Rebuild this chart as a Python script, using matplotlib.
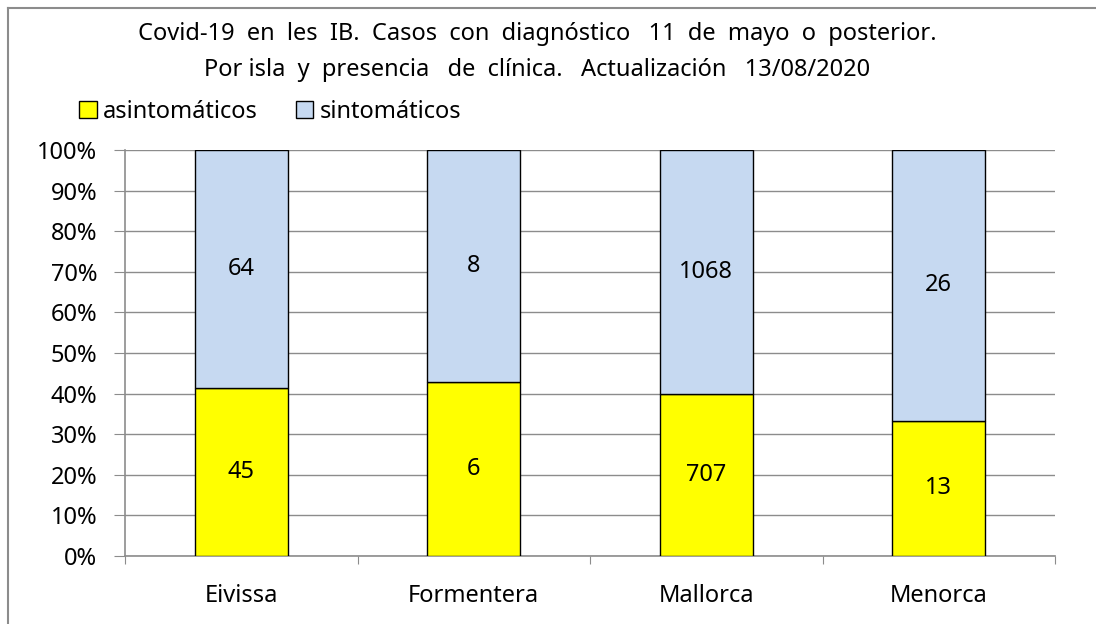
import matplotlib.pyplot as plt
from matplotlib.lines import Line2D
from matplotlib.patches import Patch

plt.rcParams['font.family'] = ['Noto Sans', 'DejaVu Sans']

islas = ['Eivissa', 'Formentera', 'Mallorca', 'Menorca']
asintomaticos = [45, 6, 707, 13]
sintomaticos = [64, 8, 1068, 26]

total = [a + s for a, s in zip(asintomaticos, sintomaticos)]
pct_asin = [a / t for a, t in zip(asintomaticos, total)]
pct_sin = [s / t for s, t in zip(sintomaticos, total)]

amarillo = '#FFFF00'
azul = '#C6D9F1'
gris = '#8C8C8C'
fs = 17

fig = plt.figure(figsize=(10.96, 6.24), dpi=100)
ax = fig.add_axes([125 / 1096, 1 - 556 / 624, 930 / 1096, 406 / 624])

x = range(len(islas))
ax.bar(x, pct_asin, width=0.4, color=amarillo, edgecolor='black', linewidth=1, zorder=3)
ax.bar(x, pct_sin, bottom=pct_asin, width=0.4, color=azul, edgecolor='black', linewidth=1, zorder=3)

for i in x:
    ax.text(i, pct_asin[i] / 2, str(asintomaticos[i]), ha='center', va='center', fontsize=fs, zorder=4)
    ax.text(i, pct_asin[i] + pct_sin[i] / 2, str(sintomaticos[i]), ha='center', va='center', fontsize=fs, zorder=4)

ax.set_xlim(-0.5, 3.5)
ax.set_ylim(0, 1)
ax.set_yticks([i / 10 for i in range(11)])
ax.set_yticklabels(['{}%'.format(i * 10) for i in range(11)], fontsize=fs)
ax.set_xticks([i - 0.5 for i in range(5)])
ax.set_xticklabels([])
ax.set_xticks(list(x), minor=True)
ax.set_xticklabels(islas, minor=True, fontsize=fs)
ax.tick_params(axis='x', which='minor', length=0, pad=20)
ax.tick_params(axis='x', which='major', length=6, color=gris, direction='out')
ax.tick_params(axis='y', length=8, color=gris, direction='out', pad=12)

ax.grid(axis='y', color=gris, linewidth=1, zorder=0)
for lado in ['top', 'right']:
    ax.spines[lado].set_visible(False)
for lado in ['left', 'bottom']:
    ax.spines[lado].set_color(gris)
    ax.spines[lado].set_linewidth(1.2)

titulo1 = 'Covid-19  en  les  IB.  Casos  con  diagnóstico   11  de  mayo  o  posterior.'
titulo2 = 'Por isla  y  presencia   de  clínica.   Actualización   13/08/2020'
fig.text(537 / 1096, 1 - 34 / 624, titulo1, ha='center', va='center', fontsize=fs)
fig.text(537 / 1096, 1 - 70 / 624, titulo2, ha='center', va='center', fontsize=fs)

handles = [Patch(facecolor=amarillo, edgecolor='black'), Patch(facecolor=azul, edgecolor='black')]
fig.legend(handles, ['asintomáticos', 'sintomáticos'], loc='center left',
           bbox_to_anchor=(70 / 1096, 1 - 112 / 624), ncol=2, frameon=False, fontsize=fs,
           handlelength=0.75, handleheight=0.75, handletextpad=0.25, columnspacing=1.6, borderaxespad=0)

# marco exterior (solo borde superior e izquierdo visibles)
fig.add_artist(Line2D([8 / 1096, 1], [1 - 8 / 624, 1 - 8 / 624], transform=fig.transFigure,
                      color=gris, linewidth=1.5))
fig.add_artist(Line2D([8 / 1096, 8 / 1096], [0, 1 - 8 / 624], transform=fig.transFigure,
                      color=gris, linewidth=1.5))

fig.savefig('out.png', dpi=100)
